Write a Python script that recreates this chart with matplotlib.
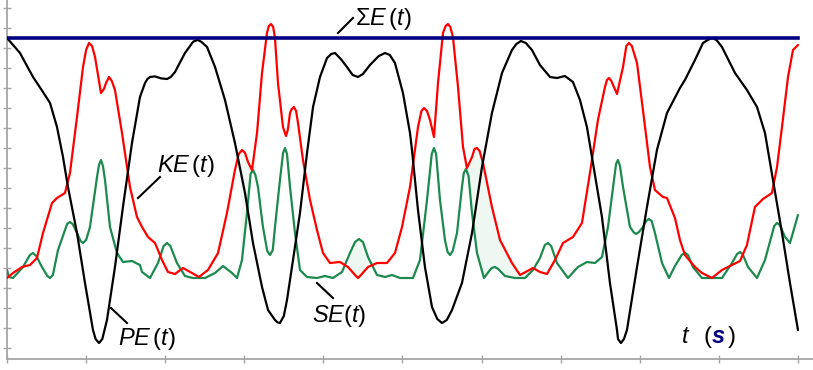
import numpy as np
import matplotlib
matplotlib.use("Agg")
import matplotlib.pyplot as plt

plt.rcParams['mathtext.fontset'] = 'custom'
plt.rcParams['mathtext.it'] = 'Liberation Sans:italic'
plt.rcParams['mathtext.rm'] = 'Liberation Sans'

# ---------------- data (time t in s, energy in arbitrary units) ----------------
total_E = 12.0
t_range = [0.0, 10.0]

pe_t = [0.00, 0.164, 0.329, 0.455, 0.544, 0.632, 0.708, 0.771, 0.885, 0.986, 1.087, 1.12, 1.163,
        1.205, 1.264, 1.365, 1.466, 1.580, 1.681, 1.745, 1.775, 1.808, 1.87, 1.95, 2.023, 2.07,
        2.124, 2.250, 2.351, 2.37, 2.415, 2.46, 2.529, 2.630, 2.756, 2.882, 3.009, 3.110, 3.224,
        3.300, 3.388, 3.42, 3.451, 3.50, 3.540, 3.616, 3.704, 3.793, 3.869, 3.957, 4.046, 4.10,
        4.147, 4.22, 4.298, 4.37, 4.437, 4.50, 4.589, 4.70, 4.779, 4.84, 4.905, 5.006, 5.095,
        5.120, 5.196, 5.284, 5.373, 5.44, 5.499, 5.56, 5.626, 5.752, 5.879, 6.005, 6.131, 6.258,
        6.384, 6.44, 6.498, 6.56, 6.637, 6.738, 6.865, 6.953, 7.054, 7.155, 7.244, 7.332, 7.408,
        7.522, 7.623, 7.712, 7.725, 7.762, 7.80, 7.838, 7.965, 8.091, 8.217, 8.344, 8.508, 8.571,
        8.698, 8.799, 8.86, 8.913, 8.97, 9.039, 9.204, 9.355, 9.482, 9.583, 9.684, 9.798, 9.899, 10.0]
pe_E = [12.0, 11.25, 10.05, 9.3, 8.75, 7.55, 6.05, 4.55, 2.25, -0.25, -2.6, -3.05, -3.25,
        -3.05, -2.1, 0.55, 3.55, 6.75, 9.05, 9.75, 9.95, 10.05, 10.08, 9.98, 9.95, 10.05,
        10.3, 11.25, 11.8, 11.85, 11.9, 11.8, 11.55, 10.55, 8.9, 6.75, 4.25, 1.75, -0.45,
        -1.6, -2.1, -2.22, -2.25, -1.9, -1.1, 0.9, 3.25, 6.25, 8.55, 10.05, 11.0, 11.2,
        11.25, 10.95, 10.55, 10.15, 10.05, 10.2, 10.65, 11.1, 11.25, 11.15, 10.75, 9.25, 7.25,
        6.4, 3.4, 0.55, -1.45, -2.05, -2.25, -2.1, -1.6, -0.25, 2.25, 5.55, 8.25, 10.25,
        11.4, 11.7, 11.85, 11.75, 11.4, 10.65, 10.05, 10.0, 10.1, 9.8, 8.9, 7.55, 5.75,
        3.05, -0.25, -2.6, -3.05, -3.25, -3.05, -2.6, 0.55, 3.55, 6.4, 8.25, 9.5, 9.9,
        10.9, 11.75, 11.9, 12.0, 11.9, 11.55, 10.25, 9.4, 8.55, 7.25, 4.9, 2.25, -0.25, -2.6]

ke_t = [0.0, 0.076, 0.19, 0.291, 0.379, 0.455, 0.569, 0.632, 0.733, 0.796, 0.885, 0.961, 1.00,
        1.037, 1.075, 1.113, 1.188, 1.225, 1.252, 1.290, 1.325, 1.365, 1.454, 1.555, 1.643, 1.707,
        1.783, 1.871, 1.960, 2.035, 2.124, 2.225, 2.339, 2.427, 2.541, 2.668, 2.781, 2.882, 2.93,
        2.971, 3.01, 3.047, 3.097, 3.161, 3.224, 3.287, 3.31, 3.338, 3.365, 3.388, 3.426, 3.489,
        3.527, 3.55, 3.578, 3.60, 3.628, 3.655, 3.679, 3.742, 3.831, 3.919, 3.995, 4.083, 4.210,
        4.311, 4.40, 4.437, 4.475, 4.564, 4.678, 4.804, 4.905, 4.994, 5.095, 5.196, 5.24, 5.272,
        5.31, 5.348, 5.398, 5.449, 5.512, 5.545, 5.575, 5.605, 5.638, 5.702, 5.765, 5.815, 5.879,
        5.91, 5.942, 5.975, 6.018, 6.131, 6.233, 6.384, 6.486, 6.650, 6.738, 6.827, 6.928, 7.029,
        7.155, 7.269, 7.370, 7.471, 7.560, 7.585, 7.611, 7.64, 7.712, 7.788, 7.83, 7.863, 7.90,
        7.965, 8.040, 8.129, 8.192, 8.293, 8.344, 8.445, 8.508, 8.571, 8.698, 8.786, 8.913, 9.039,
        9.166, 9.267, 9.355, 9.456, 9.557, 9.671, 9.735, 9.798, 9.874, 9.937, 10.0]
ke_E = [0.0, 0.25, 0.55, 0.65, 1.0, 2.25, 3.75, 4.0, 4.25, 5.25, 8.05, 10.55, 11.4,
        11.75, 11.6, 11.05, 9.25, 9.45, 9.75, 10.05, 9.85, 9.4, 7.25, 4.55, 3.05, 2.55,
        2.05, 1.75, 0.9, 0.3, 0.2, 0.5, 0.25, 0.05, 0.4, 1.25, 3.25, 5.4, 6.2,
        6.4, 6.25, 5.8, 5.4, 7.25, 10.25, 12.25, 12.6, 12.7, 12.55, 12.0, 9.75, 7.55,
        7.1, 7.4, 8.25, 8.45, 8.55, 8.35, 7.75, 5.9, 3.9, 2.4, 1.25, 0.75, 0.8,
        0.55, 0.15, 0.0, 0.15, 0.55, 0.75, 0.75, 1.25, 2.55, 4.55, 7.55, 8.35, 8.5,
        8.35, 7.9, 7.05, 9.75, 12.25, 12.6, 12.7, 12.55, 12.05, 9.55, 6.55, 5.5, 6.05,
        6.45, 6.5, 6.35, 5.75, 3.55, 1.9, 0.75, 0.15, 0.5, 0.3, 0.2, 0.9, 1.75,
        2.05, 2.75, 5.25, 7.9, 9.55, 9.9, 10.0, 9.85, 9.2, 10.55, 11.6, 11.75, 11.6,
        10.75, 8.4, 5.55, 4.4, 4.05, 4.0, 3.0, 1.9, 1.15, 0.55, 0.25, 0.0, 0.4,
        0.65, 0.85, 1.65, 3.55, 3.95, 4.25, 5.55, 7.55, 10.05, 11.4, 11.65]

se_t = [0.0, 0.025, 0.076, 0.202, 0.29, 0.329, 0.37, 0.442, 0.51, 0.544, 0.58, 0.645, 0.76,
        0.796, 0.83, 0.885, 0.93, 0.961, 1.00, 1.049, 1.138, 1.163, 1.188, 1.213, 1.239, 1.302,
        1.391, 1.466, 1.580, 1.681, 1.707, 1.808, 1.909, 1.98, 2.023, 2.065, 2.149, 2.250, 2.351,
        2.503, 2.630, 2.731, 2.845, 2.908, 2.971, 3.034, 3.08, 3.110, 3.14, 3.173, 3.236, 3.29,
        3.325, 3.36, 3.388, 3.451, 3.49, 3.515, 3.54, 3.578, 3.641, 3.704, 3.793, 3.919, 4.020,
        4.121, 4.235, 4.336, 4.40, 4.450, 4.50, 4.564, 4.678, 4.779, 4.867, 4.968, 5.133, 5.221,
        5.310, 5.37, 5.398, 5.425, 5.474, 5.537, 5.57, 5.601, 5.635, 5.689, 5.752, 5.775, 5.803,
        5.835, 5.879, 5.942, 6.030, 6.106, 6.13, 6.169, 6.21, 6.296, 6.422, 6.549, 6.650, 6.738,
        6.80, 6.839, 6.88, 6.953, 7.092, 7.218, 7.332, 7.434, 7.522, 7.598, 7.674, 7.70, 7.724,
        7.75, 7.788, 7.876, 7.92, 7.952, 7.99, 8.040, 8.08, 8.116, 8.15, 8.192, 8.281, 8.369,
        8.445, 8.53, 8.571, 8.61, 8.672, 8.786, 8.913, 9.039, 9.166, 9.23, 9.267, 9.30, 9.368,
        9.482, 9.583, 9.70, 9.735, 9.77, 9.836, 9.899, 10.0]
se_E = [0.4, 0.05, 0.0, 0.55, 1.15, 1.25, 1.1, 0.55, 0.1, 0.0, 0.15, 1.4, 2.7,
        2.8, 2.7, 2.25, 1.85, 1.75, 1.9, 2.55, 5.05, 5.65, 5.9, 5.6, 4.9, 2.55,
        1.25, 0.8, 0.85, 0.65, 0.3, 0.0, 0.75, 1.6, 1.75, 1.6, 0.75, 0.1, 0.0,
        0.0, 0.25, 0.6, 0.25, 0.0, 0.9, 3.25, 5.2, 5.4, 5.15, 4.55, 2.55, 1.35,
        1.15, 1.4, 2.55, 4.9, 6.25, 6.5, 6.2, 4.55, 2.25, 0.4, 0.05, 0.0, 0.1,
        0.0, 0.3, 1.25, 1.8, 1.95, 1.8, 1.05, 0.15, 0.05, 0.15, 0.0, 0.0, 0.9,
        3.9, 6.2, 6.5, 6.2, 3.9, 1.9, 1.3, 1.15, 1.35, 2.25, 4.55, 5.25, 5.45,
        5.1, 3.25, 1.25, 0.0, 0.4, 0.5, 0.55, 0.45, 0.1, 0.0, 0.0, 0.4, 1.0,
        1.65, 1.75, 1.6, 0.75, 0.0, 0.55, 0.8, 0.75, 1.05, 2.55, 4.9, 5.7, 5.9,
        5.6, 4.55, 2.55, 2.3, 2.2, 2.3, 2.55, 2.85, 2.95, 2.85, 2.25, 0.75, 0.0,
        0.6, 1.15, 1.25, 1.15, 0.55, 0.0, 0.0, 0.0, 0.75, 1.2, 1.3, 1.2, 0.55,
        0.0, 0.9, 2.6, 2.75, 2.65, 2.05, 1.75, 3.15]

shade_ranges = [(2.95, 3.14), (4.34, 4.57), (5.78, 6.62)]


def ordered(ts, es):
    ts = np.asarray(ts, float)
    es = np.asarray(es, float)
    o = np.argsort(ts, kind='stable')
    return ts[o], es[o]


pe_t, pe_E = ordered(pe_t, pe_E)
ke_t, ke_E = ordered(ke_t, ke_E)
se_t, se_E = ordered(se_t, se_E)

# ---------------- figure ----------------
fig = plt.figure(figsize=(8.13, 3.70), dpi=100)
ax = fig.add_axes([7/813, 11/370, 806/813, 359/370])
ax.set_xlim(0, 10.19)
ax.set_ylim(-4.05, 13.9)

grey = '#a6a6a6'
for s in ['top', 'right']:
    ax.spines[s].set_visible(False)
for s in ['left', 'bottom']:
    ax.spines[s].set_color(grey)
    ax.spines[s].set_linewidth(1.3)
ax.set_xticks(np.arange(0, 11, 1))
ax.set_yticks(np.arange(13.5, -4.0, -1.0))
ax.tick_params(direction='inout', length=6, width=1, color=grey,
               labelleft=False, labelbottom=False)

# shaded regions between KE and SE
for a, b in shade_ranges:
    g = np.linspace(a, b, 80)
    ax.fill_between(g, np.interp(g, ke_t, ke_E), np.interp(g, se_t, se_E),
                    color='#eef7f1', lw=0, zorder=1)

kw = dict(lw=1.6, solid_joinstyle='round', solid_capstyle='round', antialiased=True)
ax.plot(se_t, se_E, color='#1c8a4e', zorder=3, **kw)
ax.plot(ke_t, ke_E, color='#ff0000', zorder=4, **kw)
ax.plot(pe_t, pe_E, color='black', zorder=5, **kw)
ax.plot(t_range, [total_E, total_E], color='#000080', lw=2.6, zorder=6)

fs = 17
lbl = dict(fontsize=fs, ha='left', va='baseline', color='black', zorder=7)
ax.text(4.40, 12.65, r'$\mathit{\Sigma E}\,(t)$', **lbl)
ax.text(1.896, 5.3, r'$KE\,(t)$', **lbl)
ax.text(3.856, -2.2, r'$SE(t)$', **lbl)
ax.text(1.403, -3.35, r'$PE\,(t)$', **lbl)

leaders = [((4.185, 4.374), (12.25, 13.0)),
           ((1.656, 1.934), (4.0, 5.05)),
           ((3.919, 4.121), (-0.25, -1.0)),
           ((1.315, 1.517), (-1.5, -2.25))]
for xs, ys in leaders:
    ax.plot(xs, ys, color='black', lw=1.5, zorder=7)

ax.text(8.533, -3.25, 't', fontsize=fs, style='italic', family='Liberation Sans',
        ha='left', va='baseline')
ax.text(8.80, -3.25, '(', fontsize=fs, family='Liberation Sans', ha='left', va='baseline')
ax.text(8.915, -3.25, 's', fontsize=fs, style='italic', weight='bold', color='#000080',
        family='Liberation Sans', ha='left', va='baseline')
ax.text(9.11, -3.25, ')', fontsize=fs, family='Liberation Sans', ha='left', va='baseline')

fig.savefig('out.png', dpi=100)
